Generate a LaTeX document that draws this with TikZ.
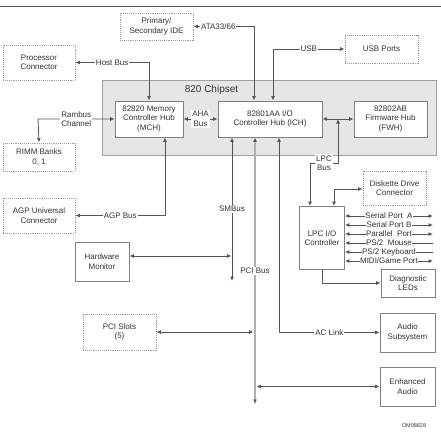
\documentclass[tikz,border=0pt]{standalone}
\usepackage{fontspec}
\setmainfont{Liberation Sans}
\usetikzlibrary{arrows.meta}
\definecolor{lineg}{HTML}{555555}
\definecolor{boxg}{HTML}{808080}
\definecolor{dotg}{HTML}{9A9A9A}
\definecolor{chipfill}{HTML}{E6E6E6}
\definecolor{chipdraw}{HTML}{A0A0A0}
\definecolor{pcig}{HTML}{B0B0B0}
\definecolor{txtg}{HTML}{333333}
\begin{document}
\begin{tikzpicture}[x=1pt,y=-1pt,
  font=\fontsize{8}{9.5}\selectfont, text=txtg,
  box/.style={draw=boxg, line width=0.9pt, fill=white, align=center, inner sep=0pt},
  dbox/.style={box, draw=dotg, densely dotted},
  lbl/.style={fill=white, inner sep=1pt, align=center, text=txtg},
  dbl/.style={draw=lineg, line width=0.8pt, {Latex[length=4.5pt,width=4pt]}-{Latex[length=4.5pt,width=4pt]}},
  sgl/.style={draw=lineg, line width=0.8pt, -{Latex[length=4.5pt,width=4pt]}},
  lft/.style={draw=lineg, line width=0.8pt, {Latex[length=4.5pt,width=4pt]}-},
  pcibus/.style={draw=pcig, line width=2pt, {Latex[length=4.5pt,width=4pt,fill=lineg,color=lineg]}-{Latex[length=4.5pt,width=4pt,fill=lineg,color=lineg]}}
]
\useasboundingbox (0,0) rectangle (441,431);
\draw[lineg, line width=1pt] (0,6) -- (441,6);

% chipset
\node[draw=chipdraw, fill=chipfill, line width=0.9pt, minimum width=334pt, minimum height=75pt, inner sep=0pt] (chipset) at (269,117.5) {};
\node[font=\fontsize{10}{12}\selectfont] (chiplbl) at (211.5,90) {820 Chipset};

% boxes
\node[dbox, minimum width=73pt, minimum height=27pt] (ide) at (156.5,26.5) {Primary/\\Secondary IDE};
\node[dbox, minimum width=72pt, minimum height=35pt] (proc) at (39,62.5) {Processor\\Connector};
\node[dbox, minimum width=73pt, minimum height=28pt] (usb) at (381.5,49) {USB Ports};
\node[box, minimum width=68pt, minimum height=36pt] (mch) at (149,119) {82820 Memory\\Controller Hub\\(MCH)};
\node[box, minimum width=104pt, minimum height=36pt] (ich) at (270,119) {82801AA I/O\\Controller Hub (ICH)};
\node[box, minimum width=73pt, minimum height=36pt] (fwh) at (390.5,119) {82802AB\\Firmware Hub\\(FWH)};
\node[dbox, minimum width=72pt, minimum height=28pt] (rimm) at (39,157) {RIMM Banks\\0, 1};
\node[dbox, minimum width=72pt, minimum height=35pt] (agp) at (39,215.5) {AGP Universal\\Connector};
\node[box, minimum width=54pt, minimum height=39pt] (hwmon) at (102,261.5) {Hardware\\Monitor};
\node[box, minimum width=45pt, minimum height=63pt] (lpcio) at (322,238) {LPC I/O\\Controller};
\node[dbox, minimum width=63pt, minimum height=34pt] (disk) at (394.5,188) {Diskette Drive\\Connector};
\node[box, minimum width=54pt, minimum height=28pt] (diag) at (408,283) {Diagnostic\\LEDs};
\node[dbox, minimum width=73pt, minimum height=36pt] (pci) at (119.5,332) {PCI Slots\\(5)};
\node[box, minimum width=55pt, minimum height=39pt] (audio) at (407.5,332.5) {Audio\\Subsystem};
\node[box, minimum width=55pt, minimum height=39pt] (enh) at (407.5,386.5) {Enhanced\\Audio};
\node[font=\fontsize{5.5}{6.5}\selectfont] (om) at (414,426) {OM08828};

% junction coordinates
\coordinate (ataC) at (254,26.5);
\coordinate (usbC) at (273,49);
\coordinate (hostC) at (149,62.5);
\coordinate (ramC) at (38,119);
\coordinate (agpC) at (165,215.5);
\coordinate (smbB) at (232,281);
\coordinate (smbH) at (231.5,256);
\coordinate (pciB) at (255,404);
\coordinate (pciS) at (253.5,332);
\coordinate (pciE) at (256.5,386.5);
\coordinate (acC) at (279,332.5);
\coordinate (lpcT) at (338,119);
\coordinate (lpcR) at (338,163);
\coordinate (lpcL) at (310,163);
\coordinate (dskC) at (334,189);
\coordinate (diagC) at (322,283);

% connectors
\draw[dbl] (ide.east) -- node[lbl, pos=0.41] {ATA33/66} (ataC) -- (ataC |- ich.north);
\draw[dbl] (usbC |- ich.north) -- (usbC) -- node[lbl] {USB} (usb.west);
\draw[dbl] (proc.east) -- node[lbl] {Host Bus} (hostC) -- (mch.north);
\draw[dbl] (mch.west) -- node[lbl] {Rambus\\Channel} (ramC) -- (rimm.north);
\draw[dbl] (mch.east) -- node[lbl] {AHA\\Bus} (ich.west);
\draw[dbl] (ich.east) -- (fwh.west);
\draw[dbl] (lpcT) -- (lpcR) -- node[lbl] {LPC\\Bus} (lpcL) -- (lpcL |- lpcio.north);
\draw[dbl] (dskC |- lpcio.north) -- (dskC) -- (dskC -| disk.west);
\draw[dbl] (agp.east) -- node[lbl] {AGP Bus} (agpC) -- (agpC |- mch.south);
\draw[dbl] (hwmon.east |- smbH) -- (smbH);
\draw[dbl] (smbB |- ich.south) -- node[lbl] {SMBus} (smbB);
\draw[pcibus] (pciB |- ich.south) -- node[lbl] {PCI Bus} (pciB);
\draw[dbl] (pci.east) -- (pciS);
\draw[dbl] (acC |- ich.south) -- (acC) -- node[lbl] {AC Link} (acC -| audio.west);
\draw[dbl] (pciE) -- (enh.west);
\draw[sgl] (lpcio.south) -- (diagC) -- (diag.west);

% ports
\coordinate (pA) at (433,216);
\coordinate (pB) at (433,225);
\coordinate (pC) at (433,234);
\coordinate (pD) at (433,243);
\coordinate (pE) at (433,252);
\coordinate (pF) at (433,261);
\draw[dbl] (lpcio.east |- pA) -- node[lbl, inner sep=0.3pt] {Serial Port\ \ A} (pA);
\draw[dbl] (lpcio.east |- pB) -- node[lbl, inner sep=0.3pt] {Serial Port B} (pB);
\draw[dbl] (lpcio.east |- pC) -- node[lbl, inner sep=0.3pt] {Parallel\ \ Port} (pC);
\draw[lft] (lpcio.east |- pD) -- node[lbl, inner sep=0.3pt] {PS/2\ \ Mouse} (pD);
\draw[lft] (lpcio.east |- pE) -- node[lbl, inner sep=0.3pt] {PS/2 Keyboard} (pE);
\draw[dbl] (lpcio.east |- pF) -- node[lbl, inner sep=0.3pt] {MIDI/Game Port} (pF);
\end{tikzpicture}
\end{document}
